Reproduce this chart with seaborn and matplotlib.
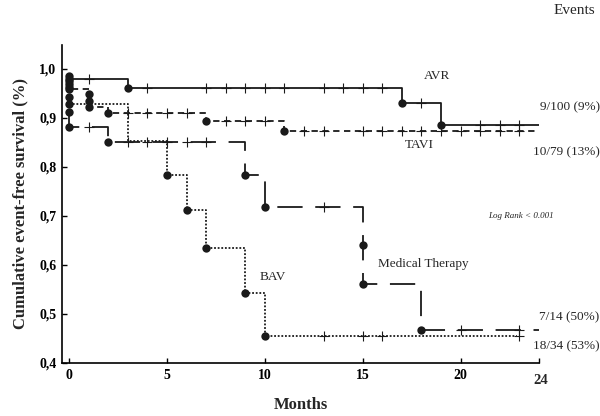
import matplotlib
matplotlib.use("Agg")
import matplotlib.pyplot as plt
import pandas as pd
import seaborn as sns

# ---- data (months, survival) ----
avr_t = [0, 0, 3, 17, 19, 24]
avr_s = [0.986, 0.980, 0.961, 0.931, 0.886, 0.886]
avr_dot_t = [0, 0, 3, 17, 19]
avr_dot_s = [0.986, 0.980, 0.961, 0.931, 0.886]
avr_cens = [1, 4, 7, 8, 9, 10, 11, 13, 14, 15, 16, 18, 21, 22, 23]

tavi_t = [0, 0, 1, 2, 7, 11, 24]
tavi_s = [0.976, 0.959, 0.922, 0.910, 0.893, 0.873, 0.873]
tavi_dot_t = [0, 0, 0, 0, 1, 1, 1, 2, 7, 11]
tavi_dot_s = [0.976, 0.969, 0.963, 0.959, 0.949, 0.935, 0.922, 0.910, 0.893, 0.873]
tavi_cens = [3, 4, 5, 6, 8, 9, 10, 12, 13, 15, 16, 17, 18, 19, 20, 21, 22, 23]

bav_t = [0, 0, 3, 5, 6, 7, 9, 10, 22.9]
bav_s = [0.943, 0.929, 0.853, 0.784, 0.713, 0.635, 0.543, 0.455, 0.455]
bav_dot_t = [0, 0, 5, 6, 7, 9, 10]
bav_dot_s = [0.943, 0.929, 0.784, 0.713, 0.635, 0.543, 0.455]
bav_cens = [13, 15, 16, 23]

mt_t = [0, 0, 2, 9, 10, 15, 15, 18, 24]
mt_s = [0.912, 0.882, 0.851, 0.784, 0.718, 0.641, 0.561, 0.467, 0.467]
mt_dot_t = [0, 0, 2, 9, 10, 15, 15, 18]
mt_dot_s = [0.912, 0.882, 0.851, 0.784, 0.718, 0.641, 0.561, 0.467]
mt_cens = [1, 3, 4, 5, 6, 7, 13, 20, 23]

labels = ["AVR", "TAVI", "BAV", "Medical Therapy"]
events = ["9/100 (9%)", "10/79 (13%)", "18/34 (53%)", "7/14 (50%)"]

curves = {
    "AVR": (avr_t, avr_s, avr_dot_t, avr_dot_s, avr_cens),
    "TAVI": (tavi_t, tavi_s, tavi_dot_t, tavi_dot_s, tavi_cens),
    "BAV": (bav_t, bav_s, bav_dot_t, bav_dot_s, bav_cens),
    "Medical Therapy": (mt_t, mt_s, mt_dot_t, mt_dot_s, mt_cens),
}
styles = {
    "AVR": "-",
    "TAVI": (0, (3.5, 2.5)),
    "BAV": (0, (1, 1)),
    "Medical Therapy": (0, (14, 7)),
}


def surv_at(t, s, x):
    v = s[0]
    for ti, si in zip(t, s):
        if ti <= x:
            v = si
    return v


sns.set_style("ticks")
plt.rcParams["font.family"] = ["Liberation Serif", "DejaVu Serif"]

fig = plt.figure(figsize=(6, 4.16), dpi=100)
ax = fig.add_axes([0.1033, 0.1274, 0.795, 0.7656])

ink = "#1a1a1a"
for name in labels:
    t, s, dt, ds, ct = curves[name]
    df = pd.DataFrame({"t": t, "s": s})
    sns.lineplot(data=df, x="t", y="s", estimator=None, sort=False, ax=ax,
                 color=ink, lw=1.3, ls=styles[name], drawstyle="steps-post")
    dots = pd.DataFrame({"t": dt, "s": ds})
    sns.scatterplot(data=dots, x="t", y="s", ax=ax, color=ink, s=36,
                    edgecolor=ink, linewidth=0, zorder=5, clip_on=False)
    cens = pd.DataFrame({"t": ct, "s": [surv_at(t, s, c) for c in ct]})
    sns.scatterplot(data=cens, x="t", y="s", ax=ax, marker="+", color=ink,
                    s=45, linewidth=0.8, zorder=4)

ax.set_xlim(-0.36, 24)
ax.set_ylim(0.4, 1.05)
ax.set_xticks([0, 5, 10, 15, 20, 24])
ax.set_xticklabels(["0", "5", "10", "15", "20", ""])
yt = [0.4, 0.5, 0.6, 0.7, 0.8, 0.9, 1.0]
ax.set_yticks(yt)
ax.set_yticklabels([f"{v:.1f}".replace(".", ",") for v in yt])
ax.tick_params(direction="in", length=3.5, width=1, colors="black",
               labelsize=10, pad=4)
for lab in ax.get_xticklabels() + ax.get_yticklabels():
    lab.set_fontweight("bold")
sns.despine(ax=ax)
for sp in ("left", "bottom"):
    ax.spines[sp].set_linewidth(1.2)
    ax.spines[sp].set_color("black")

ax.set_xlabel("")
ax.set_ylabel("Cumulative event-free survival (%)", fontsize=12,
              fontweight="bold", labelpad=8)
fig.text(0.502, 0.027, "Months", ha="center", va="center", fontsize=12,
         fontweight="bold")
ax.text(24.1, 0.365, "24", ha="center", va="center", fontsize=10.5,
        fontweight="bold", clip_on=False)
fig.text(0.992, 0.974, "Events", ha="right", va="center", fontsize=11)

ax.text(18.8, 0.985, "AVR", ha="center", va="center", fontsize=9.5)
ax.text(17.9, 0.845, "TAVI", ha="center", va="center", fontsize=9.5)
ax.text(10.4, 0.575, "BAV", ha="center", va="center", fontsize=9.5)
ax.text(18.1, 0.602, "Medical Therapy", ha="center", va="center", fontsize=9.5)
ax.text(23.1, 0.70, "Log Rank < 0.001", ha="center", va="center",
        fontsize=6.5, style="italic", clip_on=False)

ev_y = [0.922, 0.830, 0.435, 0.494]
for txt, yv in zip(events, ev_y):
    ax.text(27.1, yv, txt, ha="right", va="center", fontsize=9.5,
            clip_on=False)

fig.savefig("out.png", dpi=100)
